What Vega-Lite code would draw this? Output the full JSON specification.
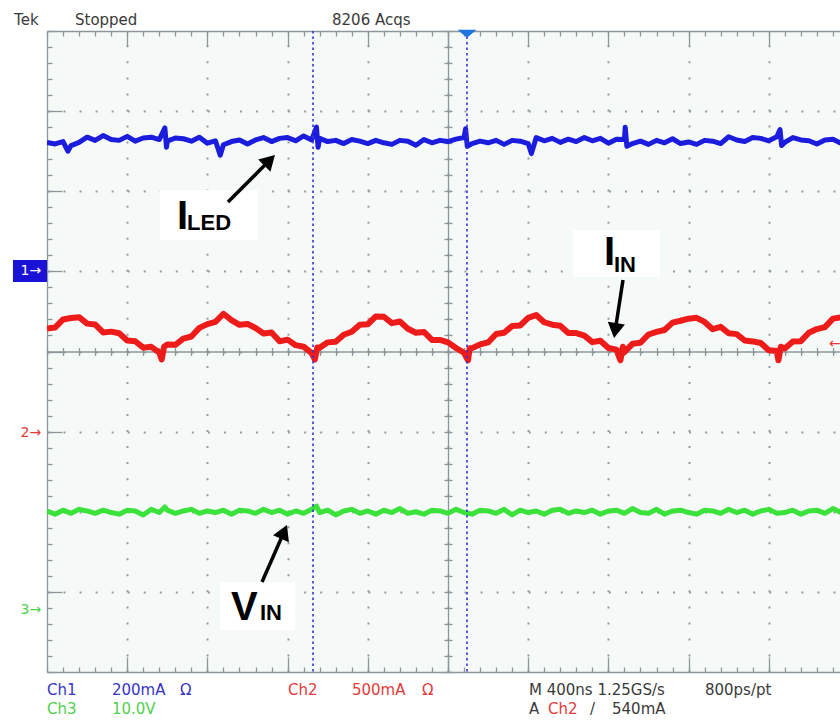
{
"$schema":"https://vega.github.io/schema/vega-lite/v6.json",
"width":793,"height":641,
"autosize":"none",
"padding":{"left":47,"top":31,"right":0,"bottom":53},
"background":"#ffffff",
"config":{
 "view":{"stroke":null,"fill":"#f5f9f7"},
 "axis":{"labels":false,"title":null,"grid":false,"domainColor":"#8d979b","tickColor":"#8d979b","domainWidth":1.3,"tickWidth":1.3,"gridColor":"#939da1","gridWidth":2,"domainCap":"butt"},
 "text":{"font":"DejaVu Sans"}
},
"resolve":{"axis":{"x":"independent","y":"independent"}},
"datasets":{
"iin":[{"x":0,"y":4.288},{"x":0.1,"y":4.299},{"x":0.2,"y":4.4},{"x":0.3,"y":4.418},{"x":0.4,"y":4.428},{"x":0.5,"y":4.348},{"x":0.6,"y":4.338},{"x":0.7,"y":4.238},{"x":0.8,"y":4.248},{"x":0.9,"y":4.228},{"x":1.0,"y":4.138},{"x":1.1,"y":4.128},{"x":1.2,"y":4.048},{"x":1.3,"y":4.058},{"x":1.4,"y":3.988},{"x":1.43,"y":3.9},{"x":1.46,"y":4.06},{"x":1.5,"y":4.086},{"x":1.6,"y":4.083},{"x":1.7,"y":4.16},{"x":1.8,"y":4.187},{"x":1.9,"y":4.295},{"x":2.0,"y":4.342},{"x":2.1,"y":4.369},{"x":2.2,"y":4.471},{"x":2.3,"y":4.392},{"x":2.4,"y":4.333},{"x":2.5,"y":4.344},{"x":2.6,"y":4.294},{"x":2.7,"y":4.225},{"x":2.8,"y":4.236},{"x":2.9,"y":4.127},{"x":3.0,"y":4.148},{"x":3.1,"y":4.079},{"x":3.2,"y":4.06},{"x":3.3,"y":3.98},{"x":3.34,"y":3.9},{"x":3.37,"y":4.05},{"x":3.4,"y":4.047},{"x":3.5,"y":4.114},{"x":3.6,"y":4.122},{"x":3.7,"y":4.209},{"x":3.8,"y":4.246},{"x":3.9,"y":4.333},{"x":4.0,"y":4.34},{"x":4.1,"y":4.438},{"x":4.2,"y":4.434},{"x":4.3,"y":4.354},{"x":4.4,"y":4.374},{"x":4.5,"y":4.284},{"x":4.6,"y":4.234},{"x":4.7,"y":4.244},{"x":4.8,"y":4.144},{"x":4.9,"y":4.144},{"x":5.0,"y":4.114},{"x":5.1,"y":4.044},{"x":5.2,"y":3.984},{"x":5.25,"y":3.89},{"x":5.27,"y":4.04},{"x":5.3,"y":4.042},{"x":5.4,"y":4.088},{"x":5.5,"y":4.113},{"x":5.6,"y":4.218},{"x":5.7,"y":4.234},{"x":5.8,"y":4.319},{"x":5.9,"y":4.324},{"x":6.0,"y":4.42},{"x":6.1,"y":4.456},{"x":6.2,"y":4.365},{"x":6.3,"y":4.334},{"x":6.4,"y":4.322},{"x":6.5,"y":4.231},{"x":6.6,"y":4.23},{"x":6.7,"y":4.198},{"x":6.8,"y":4.117},{"x":6.9,"y":4.135},{"x":7.0,"y":4.044},{"x":7.1,"y":4.023},{"x":7.15,"y":3.89},{"x":7.18,"y":4.06},{"x":7.2,"y":3.993},{"x":7.3,"y":4.096},{"x":7.4,"y":4.109},{"x":7.5,"y":4.212},{"x":7.6,"y":4.245},{"x":7.7,"y":4.268},{"x":7.8,"y":4.361},{"x":7.9,"y":4.384},{"x":8.0,"y":4.41},{"x":8.1,"y":4.42},{"x":8.2,"y":4.369},{"x":8.3,"y":4.279},{"x":8.4,"y":4.308},{"x":8.5,"y":4.228},{"x":8.6,"y":4.217},{"x":8.7,"y":4.137},{"x":8.8,"y":4.126},{"x":8.9,"y":4.106},{"x":9.0,"y":4.015},{"x":9.1,"y":4.005},{"x":9.12,"y":3.89},{"x":9.15,"y":4.06},{"x":9.2,"y":4.038},{"x":9.3,"y":4.124},{"x":9.4,"y":4.129},{"x":9.5,"y":4.234},{"x":9.6,"y":4.28},{"x":9.7,"y":4.305},{"x":9.8,"y":4.41},{"x":9.9,"y":4.426}],
"iled":[{"x":0,"y":6.61},{"x":0.1,"y":6.59},{"x":0.2,"y":6.62},{"x":0.26,"y":6.5},{"x":0.3,"y":6.57},{"x":0.4,"y":6.61},{"x":0.5,"y":6.675},{"x":0.6,"y":6.635},{"x":0.7,"y":6.695},{"x":0.8,"y":6.645},{"x":0.9,"y":6.635},{"x":1.0,"y":6.685},{"x":1.1,"y":6.625},{"x":1.2,"y":6.665},{"x":1.3,"y":6.675},{"x":1.4,"y":6.645},{"x":1.47,"y":6.79},{"x":1.49,"y":6.55},{"x":1.5,"y":6.625},{"x":1.6,"y":6.665},{"x":1.7,"y":6.655},{"x":1.8,"y":6.625},{"x":1.9,"y":6.675},{"x":2.0,"y":6.6},{"x":2.1,"y":6.63},{"x":2.16,"y":6.45},{"x":2.2,"y":6.58},{"x":2.3,"y":6.62},{"x":2.4,"y":6.64},{"x":2.5,"y":6.59},{"x":2.6,"y":6.64},{"x":2.7,"y":6.67},{"x":2.8,"y":6.62},{"x":2.9,"y":6.66},{"x":3.0,"y":6.67},{"x":3.1,"y":6.63},{"x":3.2,"y":6.69},{"x":3.3,"y":6.64},{"x":3.36,"y":6.8},{"x":3.38,"y":6.55},{"x":3.4,"y":6.66},{"x":3.5,"y":6.62},{"x":3.6,"y":6.635},{"x":3.7,"y":6.595},{"x":3.8,"y":6.645},{"x":3.9,"y":6.625},{"x":4.0,"y":6.595},{"x":4.1,"y":6.635},{"x":4.2,"y":6.605},{"x":4.3,"y":6.585},{"x":4.4,"y":6.635},{"x":4.5,"y":6.625},{"x":4.6,"y":6.575},{"x":4.7,"y":6.645},{"x":4.8,"y":6.605},{"x":4.9,"y":6.635},{"x":5.0,"y":6.62},{"x":5.1,"y":6.65},{"x":5.2,"y":6.67},{"x":5.22,"y":6.78},{"x":5.24,"y":6.56},{"x":5.3,"y":6.595},{"x":5.4,"y":6.625},{"x":5.5,"y":6.605},{"x":5.6,"y":6.635},{"x":5.7,"y":6.585},{"x":5.8,"y":6.635},{"x":5.9,"y":6.625},{"x":6.0,"y":6.595},{"x":6.04,"y":6.47},{"x":6.1,"y":6.67},{"x":6.2,"y":6.63},{"x":6.3,"y":6.66},{"x":6.4,"y":6.61},{"x":6.5,"y":6.65},{"x":6.6,"y":6.62},{"x":6.7,"y":6.67},{"x":6.8,"y":6.63},{"x":6.9,"y":6.66},{"x":7.0,"y":6.6},{"x":7.1,"y":6.65},{"x":7.2,"y":6.645},{"x":7.21,"y":6.8},{"x":7.23,"y":6.56},{"x":7.3,"y":6.595},{"x":7.4,"y":6.625},{"x":7.5,"y":6.585},{"x":7.6,"y":6.635},{"x":7.7,"y":6.605},{"x":7.8,"y":6.655},{"x":7.9,"y":6.595},{"x":8.0,"y":6.615},{"x":8.1,"y":6.585},{"x":8.2,"y":6.635},{"x":8.3,"y":6.625},{"x":8.4,"y":6.595},{"x":8.5,"y":6.68},{"x":8.6,"y":6.64},{"x":8.7,"y":6.62},{"x":8.8,"y":6.67},{"x":8.9,"y":6.66},{"x":9.0,"y":6.63},{"x":9.1,"y":6.68},{"x":9.14,"y":6.77},{"x":9.16,"y":6.57},{"x":9.2,"y":6.61},{"x":9.3,"y":6.67},{"x":9.4,"y":6.64},{"x":9.5,"y":6.63},{"x":9.6,"y":6.59},{"x":9.7,"y":6.64},{"x":9.8,"y":6.65},{"x":9.9,"y":6.6}],
"vin":[{"x":0,"y":2.01},{"x":0.1,"y":1.97},{"x":0.2,"y":2.02},{"x":0.3,"y":1.98},{"x":0.4,"y":2.03},{"x":0.5,"y":2.01},{"x":0.6,"y":1.98},{"x":0.7,"y":2.02},{"x":0.8,"y":1.99},{"x":0.9,"y":1.97},{"x":1.0,"y":2.02},{"x":1.1,"y":2.01},{"x":1.2,"y":1.96},{"x":1.3,"y":2.03},{"x":1.4,"y":1.99},{"x":1.47,"y":2.06},{"x":1.5,"y":2.02},{"x":1.6,"y":1.98},{"x":1.7,"y":2.01},{"x":1.8,"y":2.03},{"x":1.9,"y":1.98},{"x":2.0,"y":2.01},{"x":2.1,"y":1.99},{"x":2.2,"y":2.02},{"x":2.3,"y":1.97},{"x":2.4,"y":2.02},{"x":2.5,"y":2.01},{"x":2.6,"y":1.98},{"x":2.7,"y":2.03},{"x":2.8,"y":1.99},{"x":2.9,"y":2.02},{"x":3.0,"y":1.97},{"x":3.1,"y":2.01},{"x":3.2,"y":1.98},{"x":3.3,"y":2.03},{"x":3.36,"y":2.07},{"x":3.4,"y":1.99},{"x":3.5,"y":2.02},{"x":3.6,"y":1.96},{"x":3.7,"y":2.01},{"x":3.8,"y":2.03},{"x":3.9,"y":1.98},{"x":4.0,"y":2.01},{"x":4.1,"y":1.97},{"x":4.2,"y":2.02},{"x":4.3,"y":1.99},{"x":4.4,"y":2.04},{"x":4.5,"y":1.98},{"x":4.6,"y":2.0},{"x":4.7,"y":1.97},{"x":4.8,"y":2.02},{"x":4.9,"y":2.01},{"x":5.0,"y":1.98},{"x":5.1,"y":2.03},{"x":5.2,"y":1.99},{"x":5.3,"y":1.97},{"x":5.4,"y":2.02},{"x":5.5,"y":2.01},{"x":5.6,"y":1.98},{"x":5.7,"y":2.03},{"x":5.8,"y":1.96},{"x":5.9,"y":2.02},{"x":6.0,"y":1.99},{"x":6.1,"y":2.01},{"x":6.2,"y":1.97},{"x":6.3,"y":2.02},{"x":6.4,"y":2.03},{"x":6.5,"y":1.98},{"x":6.6,"y":2.01},{"x":6.7,"y":1.99},{"x":6.8,"y":2.02},{"x":6.9,"y":1.97},{"x":7.0,"y":2.01},{"x":7.1,"y":2.02},{"x":7.2,"y":1.98},{"x":7.3,"y":2.04},{"x":7.4,"y":1.99},{"x":7.5,"y":1.98},{"x":7.6,"y":2.03},{"x":7.7,"y":1.97},{"x":7.8,"y":2.01},{"x":7.9,"y":2.02},{"x":8.0,"y":1.99},{"x":8.1,"y":1.97},{"x":8.2,"y":2.02},{"x":8.3,"y":2.01},{"x":8.4,"y":1.98},{"x":8.5,"y":2.03},{"x":8.6,"y":1.99},{"x":8.7,"y":2.02},{"x":8.8,"y":1.97},{"x":8.9,"y":2.01},{"x":9.0,"y":2.03},{"x":9.1,"y":1.98},{"x":9.2,"y":1.99},{"x":9.3,"y":2.02},{"x":9.4,"y":1.97},{"x":9.5,"y":2.01},{"x":9.6,"y":2.02},{"x":9.7,"y":1.98},{"x":9.8,"y":2.04},{"x":9.9,"y":1.99}],
"cursors":[{"x":3.317},{"x":5.237}],
"trigger":[{"x":5.237,"y":7.963}],
"boxes":[{"x":1.409,"x2":2.631,"y":6.016,"y2":5.392},{"x":6.559,"x2":7.643,"y":5.516,"y2":4.93},{"x":2.157,"x2":3.092,"y":1.123,"y2":0.524}],
"arrows":[{"x":2.257,"y":5.866,"x2":2.776,"y2":6.386},{"x":7.182,"y":4.892,"x2":7.085,"y2":4.261},{"x":2.681,"y":1.123,"x2":2.955,"y2":1.748}],
"heads":[{"x":2.776,"y":6.386,"angle":45},{"x":7.085,"y":4.261,"angle":188.8},{"x":2.955,"y":1.748,"angle":23.7}],
"big":[{"text":"I","x":1.621,"y":5.529},{"text":"I","x":6.945,"y":5.08},{"text":"V","x":2.294,"y":0.649}],
"sub":[{"text":"LED","x":1.746,"y":5.516},{"text":"IN","x":7.07,"y":4.992},{"text":"IN","x":2.656,"y":0.649}],
"chbox":[{"x":-0.424,"x2":0,"y":5.142,"y2":4.867}],
"markers":[{"text":"1→","x":-0.33,"y":5.005,"ch":"w"},{"text":"2→","x":-0.33,"y":2.983,"ch":"2"},{"text":"3→","x":-0.33,"y":0.774,"ch":"3"},{"text":"←","x":9.751,"y":4.094,"ch":"2"}],
"info":[{"text":"Tek","x":-0.411,"y":8.075,"ch":"k"},{"text":"Stopped","x":0.349,"y":8.075,"ch":"k"},{"text":"8206 Acqs","x":3.554,"y":8.075,"ch":"k"},{"text":"Ch1","x":0,"y":-0.287,"ch":"1"},{"text":"200mA","x":0.81,"y":-0.287,"ch":"1"},{"text":"Ω","x":1.658,"y":-0.287,"ch":"1"},{"text":"Ch2","x":3.005,"y":-0.287,"ch":"2"},{"text":"500mA","x":3.803,"y":-0.287,"ch":"2"},{"text":"Ω","x":4.676,"y":-0.287,"ch":"2"},{"text":"M 400ns 1.25GS/s","x":6.01,"y":-0.287,"ch":"k"},{"text":"800ps/pt","x":8.204,"y":-0.287,"ch":"k"},{"text":"Ch3","x":0,"y":-0.524,"ch":"3"},{"text":"10.0V","x":0.81,"y":-0.524,"ch":"3"},{"text":"A","x":6.01,"y":-0.524,"ch":"k"},{"text":"Ch2","x":6.247,"y":-0.524,"ch":"2"},{"text":"/","x":6.771,"y":-0.524,"ch":"k"},{"text":"540mA","x":7.045,"y":-0.524,"ch":"k"}]
},
"layer":[
{"data":{"name":"iin"},"mark":{"type":"line","color":"#ee1b1b","strokeWidth":6,"strokeJoin":"round","clip":true},
 "encoding":{
  "x":{"field":"x","type":"quantitative","scale":{"domain":[0,9.888],"nice":false,"zero":false},"axis":{"orient":"top","values":[0,0.2,0.4,0.6,0.8,1,1.2,1.4,1.6,1.8,2,2.2,2.4,2.6,2.8,3,3.2,3.4,3.6,3.8,4,4.2,4.4,4.6,4.8,5,5.2,5.4,5.6,5.8,6,6.2,6.4,6.6,6.8,7,7.2,7.4,7.6,7.8,8,8.2,8.4,8.6,8.8,9,9.2,9.4,9.6,9.8],"tickSize":-5,"domain":true}},
  "y":{"field":"y","type":"quantitative","scale":{"domain":[0,8],"nice":false,"zero":false},"axis":{"orient":"left","values":[0,0.2,0.4,0.6,0.8,1,1.2,1.4,1.6,1.8,2,2.2,2.4,2.6,2.8,3,3.2,3.4,3.6,3.8,4,4.2,4.4,4.6,4.8,5,5.2,5.4,5.6,5.8,6,6.2,6.4,6.6,6.8,7,7.2,7.4,7.6,7.8,8],"tickSize":-5,"domain":true}}}},
{"data":{"name":"iled"},"mark":{"type":"line","color":"#1c1cdc","strokeWidth":5,"strokeJoin":"round","clip":true},
 "encoding":{
  "x":{"field":"x","type":"quantitative","scale":{"domain":[0,9.888],"nice":false,"zero":false},"axis":{"orient":"top","values":[1,2,3,4,5,6,7,8,9],"tickSize":-15,"domain":false,"grid":true,"gridDash":[2,14.03]}},
  "y":{"field":"y","type":"quantitative","scale":{"domain":[0,8],"nice":false,"zero":false},"axis":{"orient":"left","values":[1,2,3,4,5,6,7],"tickSize":-15,"domain":false,"grid":true,"gridDash":[2,14.04]}}}},
{"data":{"name":"vin"},"mark":{"type":"line","color":"#3be23b","strokeWidth":5,"strokeJoin":"round","clip":true},
 "encoding":{
  "x":{"field":"x","type":"quantitative","scale":{"domain":[0,9.888],"nice":false,"zero":false},"axis":{"orient":"bottom","values":[0,0.2,0.4,0.6,0.8,1,1.2,1.4,1.6,1.8,2,2.2,2.4,2.6,2.8,3,3.2,3.4,3.6,3.8,4,4.2,4.4,4.6,4.8,5,5.2,5.4,5.6,5.8,6,6.2,6.4,6.6,6.8,7,7.2,7.4,7.6,7.8,8,8.2,8.4,8.6,8.8,9,9.2,9.4,9.6,9.8],"tickSize":-5,"domain":true}},
  "y":{"field":"y","type":"quantitative","scale":{"domain":[0,8],"nice":false,"zero":false},"axis":{"orient":"left","offset":-401,"values":[0,0.2,0.4,0.6,0.8,1,1.2,1.4,1.6,1.8,2,2.2,2.4,2.6,2.8,3,3.2,3.4,3.6,3.8,4,4.2,4.4,4.6,4.8,5,5.2,5.4,5.6,5.8,6,6.2,6.4,6.6,6.8,7,7.2,7.4,7.6,7.8,8],"tickSize":4,"domain":true}}}},
{"data":{"name":"cursors"},"mark":{"type":"rule","color":"#3434d6","strokeWidth":1.6,"strokeDash":[2.5,3]},
 "encoding":{
  "x":{"field":"x","type":"quantitative","scale":{"domain":[0,9.888],"nice":false,"zero":false},"axis":{"orient":"bottom","values":[1,2,3,4,5,6,7,8,9],"tickSize":-15,"domain":false}}}},
{"data":{"name":"boxes"},"mark":{"type":"rect","fill":"#ffffff"},
 "encoding":{
  "x":{"field":"x","type":"quantitative","scale":{"domain":[0,9.888],"nice":false,"zero":false},"axis":{"orient":"bottom","offset":-320.5,"values":[0,0.2,0.4,0.6,0.8,1,1.2,1.4,1.6,1.8,2,2.2,2.4,2.6,2.8,3,3.2,3.4,3.6,3.8,4,4.2,4.4,4.6,4.8,5,5.2,5.4,5.6,5.8,6,6.2,6.4,6.6,6.8,7,7.2,7.4,7.6,7.8,8,8.2,8.4,8.6,8.8,9,9.2,9.4,9.6,9.8],"tickSize":4,"domain":true}},
  "x2":{"field":"x2"},
  "y":{"field":"y","type":"quantitative","scale":{"domain":[0,8],"nice":false,"zero":false},"axis":{"orient":"left","offset":-401,"values":[0,0.2,0.4,0.6,0.8,1,1.2,1.4,1.6,1.8,2,2.2,2.4,2.6,2.8,3,3.2,3.4,3.6,3.8,4,4.2,4.4,4.6,4.8,5,5.2,5.4,5.6,5.8,6,6.2,6.4,6.6,6.8,7,7.2,7.4,7.6,7.8,8],"tickSize":-4,"domain":false}},
  "y2":{"field":"y2"}}},
{"data":{"name":"arrows"},"mark":{"type":"rule","color":"#000000","strokeWidth":3.5},
 "encoding":{
  "x":{"field":"x","type":"quantitative","scale":{"domain":[0,9.888],"nice":false,"zero":false},"axis":{"orient":"bottom","offset":-320.5,"values":[0,0.2,0.4,0.6,0.8,1,1.2,1.4,1.6,1.8,2,2.2,2.4,2.6,2.8,3,3.2,3.4,3.6,3.8,4,4.2,4.4,4.6,4.8,5,5.2,5.4,5.6,5.8,6,6.2,6.4,6.6,6.8,7,7.2,7.4,7.6,7.8,8,8.2,8.4,8.6,8.8,9,9.2,9.4,9.6,9.8],"tickSize":-4,"domain":false}},
  "x2":{"field":"x2"},
  "y":{"field":"y","type":"quantitative","scale":{"domain":[0,8],"nice":false,"zero":false},"axis":null},
  "y2":{"field":"y2"}}},
{"data":{"name":"heads"},"mark":{"type":"point","shape":"triangle-up","filled":true,"color":"#000000","opacity":1,"size":300},
 "encoding":{
  "x":{"field":"x","type":"quantitative","scale":{"domain":[0,9.888],"nice":false,"zero":false},"axis":null},
  "y":{"field":"y","type":"quantitative","scale":{"domain":[0,8],"nice":false,"zero":false},"axis":null},
  "angle":{"field":"angle","type":"quantitative","scale":null}}},
{"data":{"name":"trigger"},"mark":{"type":"point","shape":"M-1,-0.45L1,-0.45L0,0.4Z","filled":true,"color":"#1f74e0","opacity":1,"size":361},
 "encoding":{
  "x":{"field":"x","type":"quantitative","scale":{"domain":[0,9.888],"nice":false,"zero":false},"axis":null},
  "y":{"field":"y","type":"quantitative","scale":{"domain":[0,8],"nice":false,"zero":false},"axis":null}}},
{"data":{"name":"big"},"mark":{"type":"text","font":"Liberation Sans","fontWeight":"bold","fontSize":40,"align":"left","baseline":"alphabetic","color":"#000000"},
 "encoding":{
  "x":{"field":"x","type":"quantitative","scale":{"domain":[0,9.888],"nice":false,"zero":false},"axis":null},
  "y":{"field":"y","type":"quantitative","scale":{"domain":[0,8],"nice":false,"zero":false},"axis":null},
  "text":{"field":"text"}}},
{"data":{"name":"sub"},"mark":{"type":"text","font":"Liberation Sans","fontWeight":"bold","fontSize":22,"align":"left","baseline":"alphabetic","color":"#000000"},
 "encoding":{
  "x":{"field":"x","type":"quantitative","scale":{"domain":[0,9.888],"nice":false,"zero":false},"axis":null},
  "y":{"field":"y","type":"quantitative","scale":{"domain":[0,8],"nice":false,"zero":false},"axis":null},
  "text":{"field":"text"}}},
{"data":{"name":"chbox"},"mark":{"type":"rect","fill":"#1a12d6"},
 "encoding":{
  "x":{"field":"x","type":"quantitative","scale":{"domain":[0,9.888],"nice":false,"zero":false},"axis":null},
  "x2":{"field":"x2"},
  "y":{"field":"y","type":"quantitative","scale":{"domain":[0,8],"nice":false,"zero":false},"axis":null},
  "y2":{"field":"y2"}}},
{"data":{"name":"markers"},"mark":{"type":"text","fontSize":14,"align":"left","baseline":"middle"},
 "encoding":{
  "x":{"field":"x","type":"quantitative","scale":{"domain":[0,9.888],"nice":false,"zero":false},"axis":null},
  "y":{"field":"y","type":"quantitative","scale":{"domain":[0,8],"nice":false,"zero":false},"axis":null},
  "text":{"field":"text"},
  "color":{"field":"ch","type":"nominal","scale":{"domain":["k","1","2","3","w"],"range":["#3a3a3a","#3535c8","#e33b3b","#4fd04f","#ffffff"]},"legend":null}}},
{"data":{"name":"info"},"mark":{"type":"text","fontSize":15,"align":"left","baseline":"alphabetic"},
 "encoding":{
  "x":{"field":"x","type":"quantitative","scale":{"domain":[0,9.888],"nice":false,"zero":false},"axis":null},
  "y":{"field":"y","type":"quantitative","scale":{"domain":[0,8],"nice":false,"zero":false},"axis":null},
  "text":{"field":"text"},
  "color":{"field":"ch","type":"nominal","scale":{"domain":["k","1","2","3","w"],"range":["#3a3a3a","#3535c8","#e33b3b","#4fd04f","#ffffff"]},"legend":null}}}
]
}
